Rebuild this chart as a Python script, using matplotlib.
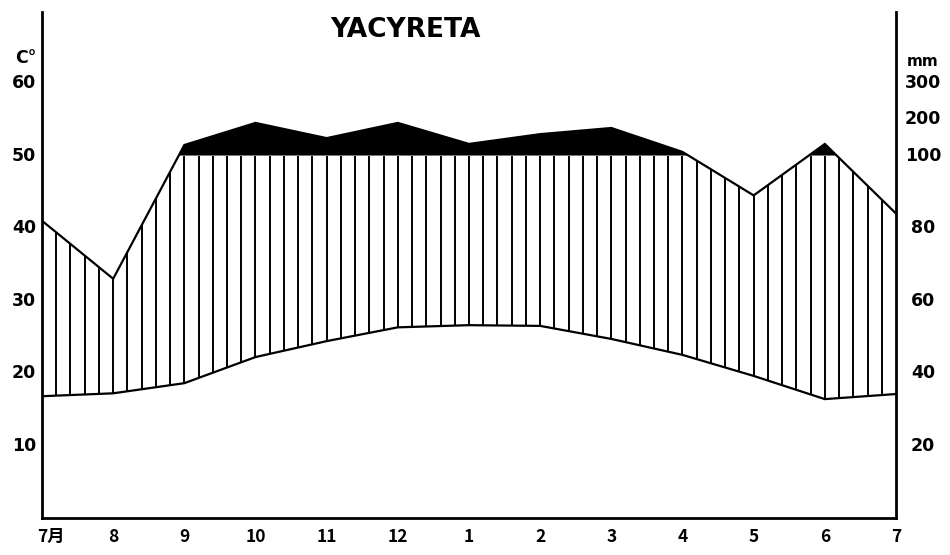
import numpy as np
import matplotlib
matplotlib.use("Agg")
import matplotlib.pyplot as plt

# ---- data ----
month_labels = ["7月", "8", "9", "10", "11", "12", "1", "2", "3", "4", "5", "6", "7"]
temperature = [16.8, 17.2, 18.6, 22.2, 24.4, 26.3, 26.6, 26.5, 24.7, 22.5, 19.6, 16.4, 17.1]   # °C
precip_mm = [82, 66, 129, 190, 148, 190, 132, 159, 176, 110, 89, 132, 84]                     # mm
left_ticks = [10, 20, 30, 40, 50, 60]
right_tick_mm = [20, 40, 60, 80, 100, 200, 300]
title = "YACYRETA"


def mm_to_scale(p):
    p = np.asarray(p, dtype=float)
    return np.where(p <= 100, p / 2.0, 50 + (p - 100) / 20.0)


x = np.arange(len(month_labels))
t = np.array(temperature)
pe = mm_to_scale(precip_mm)

fig = plt.figure(figsize=(9.5, 5.55), dpi=100)
ax = fig.add_axes([42 / 950, 1 - 518 / 555, (896 - 42) / 950, (518 - 12) / 555])
ax.set_xlim(0, 12)
ax.set_ylim(0, 69.8)

lw_ax = 2.0
for s in ["left", "right", "bottom"]:
    ax.spines[s].set_linewidth(lw_ax)
    ax.spines[s].set_color("black")
ax.spines["top"].set_visible(False)

# black fill above 100 mm
ax.fill_between(x, 50, pe, where=pe > 50, interpolate=True, color="black", lw=0)

# vertical hatching (humid period)
xs = np.arange(1, 60) * 0.2
tt = np.interp(xs, x, t)
pp = np.minimum(np.interp(xs, x, pe), 50)
mask = pp > tt
ax.vlines(xs[mask], tt[mask], pp[mask], colors="black", lw=1.4)

ax.plot(x, t, color="black", lw=1.6, solid_joinstyle="miter")
ax.plot(x, pe, color="black", lw=1.6, solid_joinstyle="miter")

ax.set_xticks([])
ax.set_yticks([])

fam = ["DejaVu Sans"]
cjk = ["Noto Sans CJK JP", "DejaVu Sans"]
fs = 12.5
fw = "bold"

# left axis labels
for v in left_ticks:
    ax.text(-0.08, v, str(v), ha="right", va="center", fontsize=fs, family=fam,
            fontweight=fw)
ax.text(-0.08, 63.4, "C°", ha="right", va="center", fontsize=fs, family=fam, fontweight=fw)

# right axis labels
for m in right_tick_mm:
    ax.text(12.38, float(mm_to_scale(m)), str(m), ha="center", va="center", fontsize=fs,
            family=fam, fontweight=fw)
ax.text(12.38, 63.0, "mm", ha="center", va="center", fontsize=fs - 1.5, family=fam,
        fontweight=fw)

# month labels
for i, lab in enumerate(month_labels):
    xi = i + (0.12 if i == 0 else 0)
    ax.text(xi, -2.6, lab, ha="center", va="center", fontsize=fs, family=cjk, fontweight=fw)

fig.text(405 / 950, 1 - 30 / 555, title, ha="center", va="center", fontsize=19,
         family=fam, fontweight="bold")

fig.savefig("out.png", dpi=100)
